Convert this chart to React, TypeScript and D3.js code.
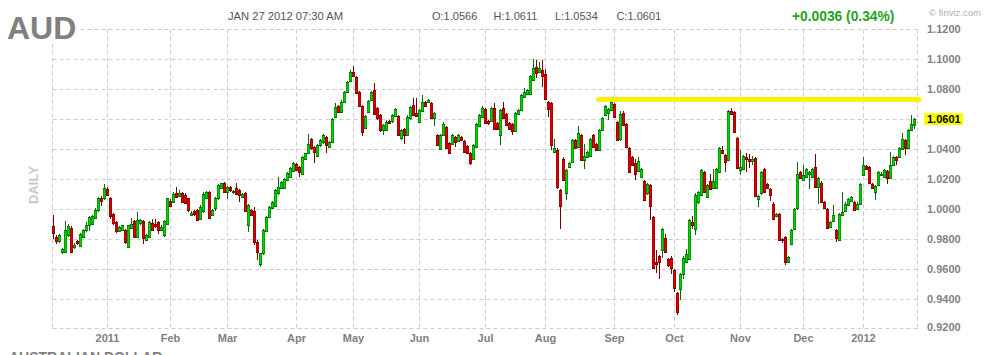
import * as d3 from "d3";

// [open, high, low, close] per trading day
type Bar = [number, number, number, number];

const dec10: Bar[] = [
  [0.9888, 0.9962, 0.9805, 0.9845], [0.982, 0.983, 0.9771, 0.9789], [0.9787, 0.9838, 0.9775, 0.9827],
  [0.9715, 0.9745, 0.9705, 0.9737], [0.9715, 0.9921, 0.971, 0.9861], [0.9827, 0.9905, 0.9815, 0.9888],
  [0.9879, 0.989, 0.9712, 0.9719], [0.9748, 0.9775, 0.9735, 0.9766], [0.9793, 0.98, 0.9765, 0.9775],
  [0.9755, 0.9845, 0.9748, 0.9838], [0.9816, 0.987, 0.9808, 0.9861], [0.9861, 0.992, 0.985, 0.9899],
  [0.9894, 0.9958, 0.986, 0.9951], [0.9906, 0.9965, 0.99, 0.9958], [0.9944, 1.001, 0.9935, 1.0],
  [0.9996, 1.0085, 0.9985, 1.0079], [1.0079, 1.009, 1.0025, 1.0056], [1.0074, 1.0169, 1.0065, 1.0142],
];
const jan11: Bar[] = [
  [1.0137, 1.015, 1.009, 1.0097], [1.0079, 1.0085, 0.9939, 0.9957], [0.9973, 0.998, 0.99, 0.991],
  [0.9917, 0.9925, 0.9845, 0.9854], [0.9854, 0.989, 0.9848, 0.9883], [0.9861, 0.99, 0.9855, 0.9894],
  [0.9861, 0.987, 0.9771, 0.9782], [0.9748, 0.99, 0.9741, 0.9894], [0.9876, 0.9944, 0.987, 0.9906],
  [0.9921, 0.993, 0.9812, 0.982], [0.982, 0.9981, 0.9815, 0.9928], [0.9908, 0.9935, 0.99, 0.9928],
  [0.9921, 0.993, 0.9771, 0.9809], [0.98, 0.984, 0.979, 0.9831], [0.9816, 0.9925, 0.981, 0.9917],
  [0.991, 0.994, 0.9855, 0.9861], [0.9906, 0.9935, 0.988, 0.989], [0.9917, 0.9925, 0.984, 0.9861],
  [0.9861, 0.99, 0.9855, 0.9883], [0.9827, 0.993, 0.9815, 0.9921], [0.9906, 1.008, 0.99, 1.0074],
];
const feb11: Bar[] = [
  [1.0056, 1.007, 1.0015, 1.0025], [1.0052, 1.012, 1.0045, 1.0101], [1.0108, 1.015, 1.008, 1.0085],
  [1.0092, 1.013, 1.0085, 1.0108], [1.0108, 1.0115, 1.0045, 1.0052], [1.01, 1.011, 1.0035, 1.0045],
  [1.0074, 1.008, 0.9985, 0.9996], [0.9966, 0.999, 0.9955, 0.998], [0.999, 0.9998, 0.996, 0.997],
  [0.9997, 1.0005, 0.9925, 0.993], [0.9936, 1.003, 0.993, 1.0019], [0.999, 1.0119, 0.998, 1.0101],
  [1.0079, 1.0125, 1.007, 1.0119], [1.0119, 1.0125, 0.994, 0.9945], [0.9963, 1.0005, 0.9955, 0.9997],
  [1.0008, 1.0085, 0.999, 1.0079], [1.0074, 1.017, 1.0065, 1.0163], [1.0141, 1.018, 1.0135, 1.0175],
  [1.0175, 1.0185, 1.0108, 1.0114],
];
const mar11: Bar[] = [
  [1.0119, 1.016, 1.007, 1.0152], [1.0152, 1.016, 1.012, 1.013], [1.0114, 1.013, 1.0105, 1.0123],
  [1.0141, 1.0175, 1.0095, 1.0101], [1.013, 1.0138, 1.0053, 1.0097], [1.0085, 1.011, 1.0078, 1.0101],
  [1.0108, 1.0115, 0.9985, 0.999], [0.9896, 1.0035, 0.9852, 1.003], [0.9997, 1.0005, 0.9955, 0.9963],
  [0.999, 1.0019, 0.9763, 0.9785], [0.9785, 0.9795, 0.9663, 0.9718], [0.9634, 0.9712, 0.9618, 0.9707],
  [0.9707, 0.987, 0.97, 0.9863], [0.9856, 0.996, 0.985, 0.9952], [0.9952, 1.0025, 0.9945, 1.0019],
  [1.0012, 1.006, 1.0005, 1.0052], [1.0025, 1.0135, 1.002, 1.013], [1.0108, 1.0217, 1.01, 1.0152],
  [1.0141, 1.0188, 1.0135, 1.0181], [1.0141, 1.021, 1.0135, 1.0203], [1.0197, 1.0248, 1.019, 1.0241],
  [1.0219, 1.0282, 1.0212, 1.0275], [1.0257, 1.0315, 1.025, 1.0308],
];
const apr11: Bar[] = [
  [1.0301, 1.031, 1.0255, 1.0264], [1.0286, 1.0292, 1.0215, 1.0248], [1.0234, 1.036, 1.0228, 1.0353],
  [1.0337, 1.038, 1.033, 1.0375], [1.0375, 1.0504, 1.037, 1.0435], [1.047, 1.0478, 1.04, 1.0408],
  [1.0419, 1.0425, 1.031, 1.0381], [1.0359, 1.044, 1.035, 1.043], [1.043, 1.047, 1.042, 1.0464],
  [1.0448, 1.0505, 1.044, 1.0497], [1.0486, 1.0492, 1.038, 1.043], [1.0419, 1.0455, 1.0412, 1.0448],
  [1.0453, 1.061, 1.0448, 1.0604], [1.062, 1.071, 1.0614, 1.0686], [1.0693, 1.07, 1.0645, 1.0653],
  [1.0653, 1.0727, 1.0645, 1.072], [1.0715, 1.0792, 1.0708, 1.0786], [1.0786, 1.086, 1.078, 1.0853],
  [1.0858, 1.093, 1.085, 1.092],
];
const may11: Bar[] = [
  [1.0915, 1.0955, 1.0885, 1.0893], [1.0884, 1.089, 1.0768, 1.0775], [1.0782, 1.079, 1.0685, 1.0693],
  [1.0693, 1.07, 1.0487, 1.052], [1.0542, 1.063, 1.0535, 1.0624], [1.0653, 1.073, 1.0645, 1.0724],
  [1.0731, 1.079, 1.0725, 1.0782], [1.0798, 1.0842, 1.0628, 1.0635], [1.0675, 1.0682, 1.06, 1.0608],
  [1.0631, 1.064, 1.052, 1.0531], [1.0531, 1.0572, 1.05, 1.0564], [1.0531, 1.0595, 1.0525, 1.0586],
  [1.059, 1.06, 1.0568, 1.0575], [1.059, 1.064, 1.058, 1.0631], [1.0626, 1.068, 1.062, 1.0671],
  [1.0624, 1.063, 1.049, 1.0497], [1.0475, 1.0538, 1.0465, 1.0531], [1.0537, 1.0545, 1.044, 1.0497],
  [1.0497, 1.0628, 1.049, 1.062], [1.0608, 1.0693, 1.06, 1.0686], [1.0697, 1.0741, 1.0625, 1.0631],
  [1.0642, 1.0745, 1.0618, 1.0626],
];
const jun11: Bar[] = [
  [1.0586, 1.0672, 1.058, 1.0664], [1.0657, 1.0765, 1.065, 1.072], [1.0715, 1.0722, 1.0685, 1.0693],
  [1.0715, 1.074, 1.0708, 1.0731], [1.0709, 1.0715, 1.0605, 1.0613], [1.0613, 1.065, 1.0555, 1.0642],
  [1.0497, 1.0505, 1.0422, 1.043], [1.0404, 1.0505, 1.0398, 1.0497], [1.0497, 1.0586, 1.049, 1.0568],
  [1.0553, 1.056, 1.0405, 1.0413], [1.0442, 1.045, 1.0368, 1.0375], [1.0435, 1.0505, 1.0428, 1.0497],
  [1.0486, 1.0492, 1.042, 1.0448], [1.0457, 1.0505, 1.045, 1.0497], [1.0486, 1.0492, 1.0456, 1.0464],
  [1.0457, 1.0465, 1.0375, 1.0381], [1.0426, 1.0432, 1.0368, 1.0375], [1.0375, 1.0382, 1.0297, 1.0308],
  [1.0337, 1.0437, 1.033, 1.043], [1.0419, 1.0575, 1.0412, 1.0568], [1.0559, 1.0638, 1.0552, 1.0631],
  [1.062, 1.0688, 1.0612, 1.068],
];
const jul11: Bar[] = [
  [1.0671, 1.068, 1.0568, 1.0575], [1.059, 1.0598, 1.0565, 1.0575], [1.059, 1.0682, 1.0582, 1.0675],
  [1.0675, 1.0709, 1.053, 1.0537], [1.0575, 1.0582, 1.053, 1.0537], [1.0497, 1.0672, 1.043, 1.0664],
  [1.068, 1.072, 1.0605, 1.0613], [1.0635, 1.0642, 1.0557, 1.0564], [1.0575, 1.0582, 1.053, 1.0537],
  [1.0568, 1.0575, 1.0495, 1.0524], [1.0524, 1.065, 1.0517, 1.0642], [1.0635, 1.0672, 1.0628, 1.0664],
  [1.0664, 1.0772, 1.0657, 1.0764], [1.0753, 1.0809, 1.0745, 1.0782], [1.0769, 1.0805, 1.0762, 1.0798],
  [1.0769, 1.09, 1.0762, 1.0893], [1.0864, 1.1004, 1.0857, 1.0942], [1.0947, 1.0995, 1.088, 1.0909],
  [1.092, 1.0985, 1.0912, 1.0942], [1.0931, 1.0995, 1.082, 1.0887],
];
const aug11: Bar[] = [
  [1.0902, 1.094, 1.0733, 1.074], [1.0718, 1.0725, 1.062, 1.0667], [1.0711, 1.0718, 1.04, 1.0429],
  [1.0384, 1.0473, 1.0375, 1.0413], [1.04, 1.0408, 1.014, 1.0151], [1.0133, 1.014, 0.9873, 1.0022],
  [1.034, 1.0348, 1.0188, 1.0196], [1.0107, 1.027, 1.0062, 1.0262], [1.0285, 1.0315, 1.0278, 1.0307],
  [1.0318, 1.047, 1.031, 1.0462], [1.0462, 1.047, 1.0405, 1.0413], [1.0418, 1.0556, 1.041, 1.0511],
  [1.0496, 1.0503, 1.0322, 1.0329], [1.0333, 1.0438, 1.0271, 1.0356], [1.0351, 1.0392, 1.0344, 1.0384],
  [1.0356, 1.0475, 1.0348, 1.0467], [1.0496, 1.0503, 1.041, 1.0418], [1.0436, 1.0443, 1.0388, 1.0396],
  [1.0396, 1.0536, 1.0389, 1.0529], [1.0529, 1.0614, 1.0522, 1.0607], [1.0629, 1.0697, 1.0622, 1.0689],
  [1.0644, 1.0675, 1.06, 1.0667], [1.0662, 1.0725, 1.0655, 1.0718],
];
const sep11: Bar[] = [
  [1.0702, 1.071, 1.061, 1.0618], [1.0584, 1.0592, 1.0455, 1.0462], [1.0467, 1.0655, 1.046, 1.064],
  [1.0644, 1.066, 1.0555, 1.0562], [1.0569, 1.0576, 1.0411, 1.0418], [1.0413, 1.042, 1.0244, 1.0251],
  [1.0347, 1.0355, 1.0289, 1.0296], [1.0307, 1.034, 1.02, 1.024], [1.0258, 1.035, 1.0251, 1.0324],
  [1.0218, 1.028, 1.0211, 1.0273], [1.0191, 1.0198, 1.0055, 1.0062], [1.0107, 1.0176, 1.01, 1.0169],
  [1.0162, 1.0169, 0.9929, 1.0022], [0.9951, 0.9958, 0.9606, 0.9613], [0.9651, 0.9729, 0.958, 0.9636],
  [0.9689, 0.9696, 0.954, 0.9651], [0.9733, 0.9875, 0.968, 0.9867], [0.9807, 0.984, 0.9711, 0.9718],
  [0.9667, 0.9674, 0.962, 0.9629], [0.968, 0.9687, 0.957, 0.9607],
];
const oct11: Bar[] = [
  [0.9596, 0.9603, 0.945, 0.948], [0.9444, 0.9451, 0.93, 0.9318], [0.9467, 0.9576, 0.94, 0.9569],
  [0.9569, 0.9687, 0.954, 0.968], [0.9651, 0.974, 0.9644, 0.9702], [0.9673, 0.9936, 0.9666, 0.9929],
  [0.9918, 0.996, 0.987, 0.99], [0.9873, 1.0107, 0.983, 1.01], [1.0047, 1.0125, 1.004, 1.0118],
  [1.01, 1.0269, 1.0093, 1.0262], [1.0247, 1.0254, 1.0111, 1.0118], [1.0084, 1.0169, 1.0077, 1.0162],
  [1.0189, 1.024, 1.0133, 1.014], [1.0144, 1.0273, 1.0137, 1.0189], [1.0144, 1.0276, 1.0137, 1.0269],
  [1.0251, 1.0418, 1.0244, 1.0411], [1.0396, 1.0422, 1.0373, 1.038], [1.0362, 1.0369, 1.0251, 1.0318],
  [1.0329, 1.0663, 1.0322, 1.0656], [1.0656, 1.0678, 1.0633, 1.064], [1.0647, 1.0654, 1.0511, 1.0518],
  [1.0478, 1.0485, 1.0271, 1.0278],
];
const nov11: Bar[] = [
  [1.0262, 1.0395, 1.0229, 1.0284], [1.0273, 1.0365, 1.0266, 1.0358], [1.0351, 1.038, 1.025, 1.034],
  [1.034, 1.037, 1.028, 1.0322], [1.0322, 1.036, 1.03, 1.034], [1.0344, 1.0351, 1.0084, 1.0091],
  [1.0073, 1.0096, 1.0018, 1.0089], [1.0107, 1.0258, 1.01, 1.0251], [1.0269, 1.0276, 1.0111, 1.0118],
  [1.0167, 1.0174, 1.0137, 1.0144], [1.0136, 1.0143, 1.006, 1.01], [1.004, 1.0047, 0.9933, 0.994],
  [0.9958, 0.998, 0.9951, 0.9973], [0.9967, 0.9974, 0.9789, 0.9796], [0.9805, 0.9812, 0.9778, 0.9796],
  [0.9818, 0.9825, 0.9633, 0.9651], [0.9651, 0.9692, 0.9644, 0.9685], [0.9773, 0.9869, 0.9766, 0.9862],
  [0.9873, 1.0009, 0.9866, 1.0002], [1.0007, 1.0318, 1.0, 1.024], [1.0251, 1.0258, 1.0204, 1.0211],
];
const dec11: Bar[] = [
  [1.0196, 1.0295, 1.0189, 1.0233], [1.0218, 1.0276, 1.0211, 1.0269], [1.0236, 1.0256, 1.0138, 1.0249],
  [1.0218, 1.0276, 1.0211, 1.0269], [1.0284, 1.0367, 1.0144, 1.0151], [1.0151, 1.0214, 1.004, 1.0207],
  [1.018, 1.0187, 1.0044, 1.0051], [1.0051, 1.0058, 1.0004, 1.0011], [1.0002, 1.0009, 0.9871, 0.9878],
  [0.9884, 0.9925, 0.9877, 0.9918], [0.9922, 1.0029, 0.9915, 0.9962], [0.9862, 0.9869, 0.9784, 0.9811],
  [0.9796, 0.9974, 0.9789, 0.9967], [0.9962, 1.012, 0.9955, 0.9984], [0.9989, 1.0047, 0.9982, 1.004],
  [1.0029, 1.008, 1.0022, 1.0073], [1.0056, 1.0091, 1.0049, 1.0084], [1.0047, 1.0054, 0.9989, 0.9996],
  [1.0002, 1.0047, 0.9995, 1.004], [1.004, 1.018, 1.0033, 1.0173],
];
const jan12: Bar[] = [
  [1.0229, 1.0351, 1.0222, 1.03], [1.0291, 1.0298, 1.0266, 1.0273], [1.0284, 1.0291, 1.0173, 1.018],
  [1.0173, 1.018, 1.0137, 1.0144], [1.0118, 1.0165, 1.0062, 1.0158], [1.0162, 1.0254, 1.0155, 1.0247],
  [1.0229, 1.0247, 1.0222, 1.024], [1.0218, 1.0269, 1.0211, 1.0262], [1.0255, 1.0262, 1.0167, 1.0211],
  [1.0211, 1.0385, 1.0204, 1.03], [1.03, 1.0358, 1.0293, 1.0351], [1.0351, 1.0358, 1.03, 1.0329],
  [1.0351, 1.0414, 1.0344, 1.0407], [1.0402, 1.0507, 1.0395, 1.0469], [1.0462, 1.0469, 1.0362, 1.0411],
  [1.0411, 1.0536, 1.0404, 1.0529], [1.0529, 1.0629, 1.0522, 1.0567], [1.0566, 1.0611, 1.0534, 1.0601],
];

const monthBars = [dec10, jan11, feb11, mar11, apr11, may11, jun11, jul11, aug11, sep11, oct11, nov11, dec11, jan12];
const monthLabels = ["", "2011", "Feb", "Mar", "Apr", "May", "Jun", "Jul", "Aug", "Sep", "Oct", "Nov", "Dec", "2012"];
const yTicks = [0.92, 0.94, 0.96, 0.98, 1.0, 1.02, 1.04, 1.06, 1.08, 1.1, 1.12];

const ticker = "AUD";
const stamp = "JAN 27 2012 07:30 AM";
const change = "+0.0036 (0.34%)";
const ohlcKeys = ["O", "H", "L", "C"];
const resistance = { level: 1.0733, from: 181 };

const SANS = "'Liberation Sans', Arial, sans-serif";
const GRID = "#cccccc";

export default function App() {
  const bars = monthBars.flat();
  const starts: number[] = [];
  monthBars.reduce((acc, m) => {
    starts.push(acc);
    return acc + m.length;
  }, 0);

  const left = 52.5;
  const right = 917.5;
  const top = 29.5;
  const bottom = 328.5;

  const x = d3.scaleLinear().domain([0, bars.length - 1]).range([53, 914]);
  const y = d3.scaleLinear().domain([0.92, 1.12]).range([329.5, 29.5]);
  const fmt = d3.format(".4f");
  const last = bars[bars.length - 1];
  const lastY = y(last[3]);

  return (
    <svg width={1000} height={355} style={{ position: "absolute", left: 0, top: 0, background: "#fff" }}>
      <rect width={1000} height={355} fill="#fff" />
      {/* horizontal grid */}
      {yTicks.map((t) => {
        const yy = t === 0.92 ? bottom : Math.floor(y(t)) + 0.5;
        return <line key={t} x1={left} x2={right} y1={yy} y2={yy} stroke={GRID} strokeDasharray="4,3" />;
      })}
      {/* vertical grid */}
      {[left, right].map((xx) => (
        <line key={xx} x1={xx} x2={xx} y1={top} y2={bottom} stroke={GRID} strokeDasharray="4,3" />
      ))}
      {starts.slice(1).map((s) => {
        const xx = Math.round(x(s)) + 0.5;
        return <line key={s} x1={xx} x2={xx} y1={top} y2={bottom} stroke={GRID} strokeDasharray="4,3" />;
      })}

      {/* candles */}
      {bars.map(([o, h, l, c], i) => {
        const cx = Math.round(x(i));
        const up = c >= o;
        const dark = up ? "#0a6a0a" : "#7a0000";
        const bright = up ? "#00d400" : "#d80000";
        const bt = Math.round(y(Math.max(o, c)));
        const bb = Math.round(y(Math.min(o, c)));
        const bh = Math.max(1, bb - bt);
        const wt = Math.round(y(h));
        const wb = Math.round(y(l));
        return (
          <g key={i}>
            <rect x={cx} y={wt} width={1} height={Math.max(1, wb - wt)} fill={dark} />
            <rect x={cx - 1} y={bt} width={3} height={bh + 1} fill={dark} />
            {bh >= 2 && <rect x={cx - 0.5} y={bt + 1} width={2} height={bh - 1} fill={bright} />}
          </g>
        );
      })}

      {/* resistance line */}
      <line
        x1={x(resistance.from) + 2.5}
        x2={right + 1.5}
        y1={y(resistance.level)}
        y2={y(resistance.level)}
        stroke="#ffef00"
        strokeWidth={5}
        strokeLinecap="round"
      />

      {/* x labels */}
      {starts.map((s, k) =>
        monthLabels[k] ? (
          <text
            key={k}
            x={Math.round(x(s)) + 0.5}
            y={342}
            textAnchor="middle"
            fontFamily={SANS}
            fontWeight="bold"
            fontSize={11}
            fill="#808080"
          >
            {monthLabels[k]}
          </text>
        ) : null
      )}

      {/* y labels */}
      {yTicks
        .filter((t) => Math.abs(y(t) - lastY) > 8)
        .map((t) => (
          <text
            key={t}
            x={927}
            y={Math.min(y(t), 327.5)}
            dy="0.35em"
            fontFamily={SANS}
            fontWeight="bold"
            fontSize={11}
            fill="#7f7f86"
          >
            {fmt(t)}
          </text>
        ))}
      <rect x={924} y={Math.round(lastY) - 6} width={39} height={12} fill="#ffff00" />
      <text x={927} y={lastY} dy="0.35em" fontFamily={SANS} fontWeight="bold" fontSize={11} fill="#000">
        {fmt(last[3])}
      </text>

      {/* header */}
      <rect x={0} y={0} width={78} height={44} fill="#fff" />
      <text x={7} y={39} fontFamily={SANS} fontWeight="bold" fontSize={32} fill="#808080">
        {ticker}
      </text>
      <text x={228} y={20} fontFamily={SANS} fontSize={11.2} fill="#555">
        {stamp}
      </text>
      {ohlcKeys.map((k, j) => (
        <text key={k} x={432 + j * 61.5} y={20} fontFamily={SANS} fontSize={11} fill="#555">
          {`${k}:${fmt(last[j === 0 ? 0 : j === 1 ? 1 : j === 2 ? 2 : 3])}`}
        </text>
      ))}
      <text x={792} y={21} fontFamily={SANS} fontWeight="bold" fontSize={13.8} fill="#22a322">
        {change}
      </text>
      <text x={929} y={16} fontFamily={SANS} fontSize={9.5} fill="#a9b0bb">
        © finviz.com
      </text>
      <text
        transform="translate(38,185) rotate(-90)"
        textAnchor="middle"
        fontFamily={SANS}
        fontWeight="bold"
        fontSize={13}
        fill="#c8c8c8"
      >
        DAILY
      </text>
      <text x={9} y={362} fontFamily={SANS} fontWeight="bold" fontSize={14} fill="#808080">
        AUSTRALIAN DOLLAR
      </text>
    </svg>
  );
}
